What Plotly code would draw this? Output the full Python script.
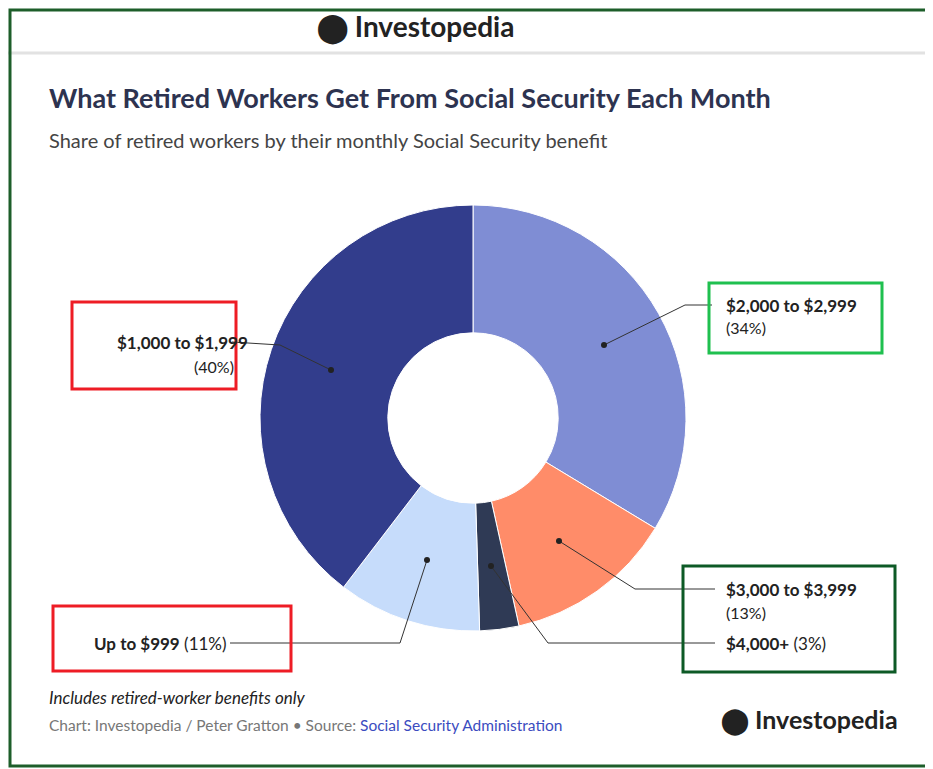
import plotly.graph_objects as go

W, H = 925, 761
OFF = 8
labels = ["$2,000 to $2,999", "$3,000 to $3,999", "$4,000+", "Up to $999", "$1,000 to $1,999"]
shares = [34, 13, 3, 11, 40]
colors = ["#7f8dd4", "#ff8c69", "#2f3a55", "#c6dcfb", "#323d8c"]

def px(x): return (x - OFF) / W
def py(y): return 1 - (y - OFF) / H

fig = go.Figure(go.Pie(
    labels=labels, values=shares, hole=0.4, sort=False, direction="clockwise",
    rotation=0, marker=dict(colors=colors, line=dict(color="white", width=1)),
    textinfo="none", hoverinfo="label+percent", showlegend=False,
    domain=dict(x=[px(260), px(686)], y=[py(631), py(205)]),
))

F = "Lato"
shapes = []
ann = []

def line(pts, dot):
    path = "M " + " L ".join(f"{px(a)},{py(b)}" for a, b in pts)
    shapes.append(dict(type="path", path=path, xref="paper", yref="paper",
                       line=dict(color="#333", width=1)))
    shapes.append(dict(type="circle", xref="paper", yref="paper",
                       x0=px(dot[0] - 3), x1=px(dot[0] + 3), y0=py(dot[1] - 3), y1=py(dot[1] + 3),
                       fillcolor="#222", line=dict(width=0)))

def box(x0, y0, x1, y1, c):
    shapes.append(dict(type="rect", xref="paper", yref="paper", x0=px(x0), x1=px(x1),
                       y0=py(y0), y1=py(y1), line=dict(color=c, width=3)))

def text(x, y, t, size=17, anchor="left", color="#222"):
    ann.append(dict(x=px(x), y=py(y), xref="paper", yref="paper", text=t, showarrow=False,
                    xanchor=anchor, yanchor="middle", font=dict(family=F, size=size, color=color)))

# header
shapes.append(dict(type="line", xref="paper", yref="paper", x0=0, x1=1, y0=py(53), y1=py(53),
                   line=dict(color="#e2e2e2", width=3)))
text(415, 27, "<b>⬤ Investopedia</b>", 28, "center", "#222")
text(47, 97, "<b>What Retired Workers Get From Social Security Each Month</b>", 27, color="#2d3350")
text(47, 140, "Share of retired workers by their monthly Social Security benefit", 20, color="#444")
text(47, 697, "<i>Includes retired-worker benefits only</i>", 17)
text(47, 725, "Chart: Investopedia / Peter Gratton • Source: <span style='color:#3b4cc0'>Social Security Administration</span>", 15.5, color="#777")
text(900, 720, "<b>⬤ Investopedia</b>", 25, "right", "#222")

# labels
text(724, 305, f"<b>{labels[0]}</b>")
text(724, 328, f"({shares[0]}%)", 16)
line([(604, 345), (685, 305), (712, 305)], (604, 345))
text(250, 342, f"<b>{labels[4]}</b>", anchor="right")
text(236, 366, f"({shares[4]}%)", 16, "right")
line([(232, 342), (280, 345), (331, 370)], (331, 370))
text(724, 589, f"<b>{labels[1]}</b>")
text(724, 612, f"({shares[1]}%)", 16)
line([(559, 541), (635, 589), (715, 589)], (559, 541))
text(724, 643, f"<b>{labels[2]}</b> ({shares[2]}%)")
line([(491, 566), (548, 643), (715, 643)], (491, 566))
text(92, 643, f"<b>{labels[3]}</b> ({shares[3]}%)")
line([(230, 643), (400, 643), (427, 560)], (427, 560))

box(72, 302, 236, 389, "#ee1c25")
box(709, 283, 882, 353, "#1fc04f")
box(683, 566, 895, 672, "#0d5a26")
box(53, 606, 291, 671, "#ee1c25")
box(10, 10, 930, 766, "#1d5e2a")

fig.update_layout(width=W, height=H, margin=dict(l=0, r=0, t=0, b=0),
                  paper_bgcolor="white", shapes=shapes, annotations=ann)
fig.write_html("out.html")
